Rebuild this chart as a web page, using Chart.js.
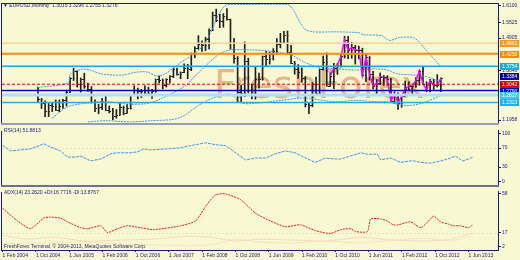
<!DOCTYPE html>
<html>
<head>
<meta charset="utf-8">
<script src="https://cdn.jsdelivr.net/npm/chart.js@4.4.1/dist/chart.umd.min.js"></script>
<style>
  html, body { margin: 0; padding: 0; background: #F8F8D2; }
  #wrap { position: relative; width: 520px; height: 260px; overflow: hidden; background: #F8F8D2; }
  canvas { position: absolute; left: 0; }
</style>
</head>
<body>
<div id="wrap">
  <canvas id="mainChart" width="520" height="127" style="top:0;width:520px;height:127px"></canvas>
  <canvas id="rsiChart" width="520" height="62" style="top:127px;width:520px;height:62px"></canvas>
  <canvas id="adxChart" width="520" height="72" style="top:188px;width:520px;height:72px"></canvas>
</div>
<script>
// month index 0 = Feb 2004 ... 113 = Jul 2013
const opens = [1.2460,1.2470,1.2300,1.1970,1.2200,1.2170,1.2020,1.2170,1.2420,1.2740,1.3270,1.3560,
  1.3050,1.3260,1.2960,1.2870,1.2340,1.2090,1.2130,1.2340,1.2030,1.1990,1.1790,1.1840,
  1.2160,1.1910,1.2110,1.2620,1.2800,1.2790,1.2770,1.2820,1.2680,1.2760,1.3250,1.3190,
  1.3030,1.3230,1.3360,1.3650,1.3450,1.3540,1.3690,1.3640,1.4270,1.4490,1.4640,1.4590,
  1.4840,1.5180,1.5790,1.5590,1.5540,1.5760,1.5610,1.4680,1.4080,1.2720,1.2700,1.3970,
  1.2800,1.2670,1.3250,1.3230,1.4150,1.4030,1.4250,1.4340,1.4640,1.4720,1.5000,1.4320,
  1.3870,1.3630,1.3510,1.3290,1.2270,1.2230,1.3050,1.2680,1.3630,1.3930,1.2980,1.3380,
  1.3690,1.3810,1.4160,1.4800,1.4390,1.4500,1.4390,1.4390,1.3390,1.4140,1.3450,1.2960,
  1.3080,1.3320,1.3340,1.3240,1.2370,1.2660,1.2290,1.2570,1.2860,1.2960,1.2990,1.3190,
  1.3580,1.3060,1.2820,1.3170,1.3000,1.3015];
const highs = [1.2930,1.2480,1.2380,1.2280,1.2290,1.2420,1.2420,1.2440,1.2810,1.3300,1.3670,1.3570,
  1.3290,1.3480,1.3090,1.2950,1.2420,1.2250,1.2480,1.2580,1.2180,1.2090,1.2040,1.2280,
  1.2180,1.2250,1.2620,1.2980,1.2890,1.2840,1.2980,1.2930,1.2840,1.3250,1.3370,1.3250,
  1.3260,1.3380,1.3680,1.3680,1.3530,1.3850,1.3830,1.4280,1.4530,1.4970,1.4760,1.4900,
  1.5240,1.5900,1.6020,1.5820,1.5840,1.6040,1.5620,1.4860,1.4140,1.3010,1.4720,1.4070,
  1.3050,1.3740,1.3480,1.4160,1.4340,1.4310,1.4450,1.4850,1.5060,1.5140,1.5150,1.4580,
  1.3950,1.3820,1.3690,1.3350,1.2330,1.3110,1.3330,1.3650,1.4160,1.4280,1.3500,1.3870,
  1.3860,1.4250,1.4940,1.4940,1.4700,1.4580,1.4550,1.4470,1.4250,1.4140,1.3550,1.3230,
  1.3490,1.3390,1.3380,1.3280,1.2750,1.2700,1.2580,1.3170,1.3140,1.3020,1.3310,1.3600,
  1.3710,1.3140,1.3240,1.3240,1.3420,1.3296];
const lows = [1.2350,1.2080,1.1760,1.1760,1.1960,1.2000,1.1950,1.2080,1.2180,1.2720,1.3190,1.2930,
  1.2730,1.2880,1.2760,1.2300,1.1960,1.1870,1.2030,1.1990,1.1910,1.1640,1.1700,1.1830,
  1.1830,1.1910,1.2060,1.2620,1.2460,1.2520,1.2660,1.2610,1.2480,1.2720,1.3090,1.2860,
  1.2930,1.3080,1.3300,1.3400,1.3260,1.3500,1.3260,1.3580,1.4090,1.4430,1.4340,1.4370,
  1.4440,1.5180,1.5520,1.5280,1.5300,1.5580,1.4430,1.3880,1.2330,1.2330,1.2550,1.2700,
  1.2460,1.2450,1.2890,1.3200,1.3740,1.3840,1.4000,1.4220,1.4480,1.4680,1.4220,1.3860,
  1.3440,1.3270,1.3120,1.2140,1.1880,1.2150,1.2590,1.2650,1.3600,1.2970,1.2970,1.2870,
  1.3430,1.3720,1.4080,1.4050,1.4070,1.3840,1.4050,1.3360,1.3140,1.3210,1.2860,1.2620,
  1.3030,1.3000,1.3000,1.2350,1.2280,1.2040,1.2130,1.2560,1.2800,1.2660,1.2920,1.3000,
  1.3030,1.2750,1.2740,1.2790,1.2930,1.2755];
const closes = [1.2470,1.2300,1.1970,1.2200,1.2170,1.2020,1.2170,1.2420,1.2740,1.3270,1.3560,1.3050,
  1.3260,1.2960,1.2870,1.2340,1.2090,1.2130,1.2340,1.2030,1.1990,1.1790,1.1840,1.2160,
  1.1910,1.2110,1.2620,1.2800,1.2790,1.2770,1.2820,1.2680,1.2760,1.3250,1.3190,1.3030,
  1.3230,1.3360,1.3650,1.3450,1.3540,1.3690,1.3640,1.4270,1.4490,1.4640,1.4590,1.4840,
  1.5180,1.5790,1.5590,1.5540,1.5760,1.5610,1.4680,1.4080,1.2720,1.2700,1.3970,1.2800,
  1.2670,1.3250,1.3230,1.4150,1.4030,1.4250,1.4340,1.4640,1.4720,1.5000,1.4320,1.3870,
  1.3630,1.3510,1.3290,1.2270,1.2230,1.3050,1.2680,1.3630,1.3930,1.2980,1.3380,1.3690,
  1.3810,1.4160,1.4800,1.4390,1.4500,1.4390,1.4390,1.3390,1.4140,1.3450,1.2960,1.3080,
  1.3320,1.3340,1.3240,1.2370,1.2660,1.2290,1.2570,1.2860,1.2960,1.2990,1.3190,1.3580,
  1.3060,1.2820,1.3170,1.3000,1.3010,1.3276];

// magenta overlay (month index, price)
const pinkIdx = [82,83,84,85,86,87,88,89,90,91,92,93,94,95,96,97,98,99,100,101,102,103,104,105,106,107,108,109,110,111,112,113];
const pinkVal = [1.3380,1.3690,1.3810,1.4160,1.4800,1.4390,1.4500,1.4390,1.4390,1.3390,1.4140,1.3450,1.2960,1.3080,
  1.3320,1.3340,1.3240,1.2370,1.2660,1.2290,1.2570,1.2860,1.2960,1.2990,1.3190,1.3580,1.3060,1.2820,1.3170,1.3000,1.3010,1.3276];

// Bollinger bands (month index, price)
const bbUpIdx = [0,8.4,9.1,12.3,14.7,18,23.6,27.6,30.8,33.2,35.6,40.4,45.2,48.3,50.7,52.9,57.9,70,71.6,73.3,74.8,77.2,83.7,90.1,91.3,96.4,98.6,101.2,105.3,107,108.4,110.8,113];
const bbUpVal = [1.291,1.310,1.3445,1.3635,1.3597,1.3445,1.3407,1.3521,1.3521,1.3369,1.3445,1.3939,1.4395,1.5041,1.5801,1.6181,1.620,1.620,1.5991,1.5535,1.5231,1.5117,1.5117,1.5079,1.5003,1.4965,1.4775,1.4889,1.4889,1.4699,1.4471,1.4091,1.3749];
const bbMidIdx = [4,8.4,14,19,26,31,35,41,44,48,51,54,60,65,71,75,79,84,89,95,98,101,106,110,113];
const bbMidVal = [1.1700,1.2150,1.2300,1.2350,1.2250,1.2290,1.2500,1.2950,1.3350,1.3900,1.4250,1.4400,1.4400,1.4350,1.4200,1.3900,1.3700,1.3650,1.3600,1.3650,1.3600,1.3450,1.3400,1.3300,1.3100];
const bbLowIdx = [14,19,26,32,38,41,45,50,54,57,62,68,75,80,84,89,95,98,101,104,108,113];
const bbLowVal = [1.1550,1.1600,1.1550,1.1600,1.1650,1.1800,1.2200,1.2550,1.2650,1.2300,1.2300,1.2400,1.2500,1.2400,1.2350,1.2400,1.2350,1.2350,1.2250,1.2200,1.2300,1.2600];

// horizontal levels and their label boxes
const levelVals   = [1.4661, 1.4250, 1.3754, 1.3042, 1.2790, 1.2617, 1.2323];
const levelLabels = ['1.4661','1.4250','1.3754','1.3042','1.2790','1.2617','1.2323'];
const levelColors = ['#F6D59A','#FF8C00','#1EA8E0','#E00000','#0000D0','#A8E4F4','#20B0F0'];
const levelBoxes  = ['#FF9A1F','#FF8C00','#1EA8E0','#E00000','#0000D0','#40C8F0','#20B0F0'];
const levelWidths = [1.5, 2, 1.5, 1, 1.5, 3, 1.5];
const navyTagVal = 1.3384, navyTagLabel = '1.3384';

// price axis ticks
const priceTickVals   = [1.6143, 1.5497, 1.4870, 1.3597, 1.1621];
const priceTickLabels = ['1.6100', '1.5525', '1.4905', '1.3646', '1.1958'];

// RSI (month index, value)
const rsiIdx = [0,1.9,4.3,6.7,9.9,11.5,13.9,15.6,17.5,18.8,21.2,23.6,26,27.6,30.8,32.4,33.9,35.6,39.2,42.3,45.2,48.8,51.2,53.6,56,58.4,60.8,63.2,65.6,68,70.4,72.8,75.2,77.6,80,81.3,86.1,87.7,90.1,90.9,93.3,95.7,98.1,98.8,100.5,102.9,105.3,107,108.9,110.6,112,113.2];
const rsiVal = [75.5,64,66,68,79,72,64,51,51,53,43,47,58,60,60,62,68,66,68,70,75,81,77,75,60,45,49,49,58,64,60,49,40,49,47,47,60,57,57,45,49,40,43,43,40,38,43,47,53,43,47,51];
const rsiTickVals = [100, 70, 30, 0];

// ADX and DI lines (month index, value)
const adxIdx = [0,3.6,6.7,9.9,11.5,13.9,15.6,18.8,20.4,23.6,25.2,27.6,30,33.2,36.3,42.8,46.4,48.8,51.2,53.6,57.2,60.8,64.4,68,71.6,75.2,78.8,81.3,83.7,84.9,87.7,88.5,90.9,92.5,93.9,95.1,98.1,100.5,102.2,103.6,105.3,107,108.4,110.1,112,113];
const adxVal = [42.6,29.3,21.1,32.4,33.4,32.4,28.3,22.1,21.1,24.2,17,21.1,24.2,22.1,20.1,24.2,29.3,44.7,57,58,51.9,37.5,29.3,23.2,25.2,19,16,20.1,21.1,18,18,31.4,31.4,29.3,25.2,25.2,28.3,22.1,28.3,34.4,28.3,26.2,24.2,24.2,22.1,25.2,23.2];
const pdiIdx = [0,6,12,20,28,36,44,50,56,62,70,78,86,94,102,108,113];
const pdiVal = [14,10,12,8,9,10,13,12,8,10,9,8,12,9,8,10,16.8];
const mdiIdx = [0,6,12,20,28,36,44,50,56,62,70,78,86,94,102,108,113];
const mdiVal = [5,6,6,7,5,4,3,4,10,7,6,8,6,9,11,8,13.9];
const adxTickVals = [58, 17, 2];

// time axis
const timeTickIdx = [0,8,16,24,32,40,48,56,64,72,80,88,96,104,112];
const timeTickLabels = ['1 Feb 2004','1 Oct 2004','1 Jun 2005','1 Feb 2006','1 Oct 2006','1 Jun 2007','1 Feb 2008',
  '1 Oct 2008','1 Jun 2009','1 Feb 2010','1 Oct 2010','1 Jun 2011','1 Feb 2012','1 Oct 2012','1 Jun 2013'];

const NAVY = '#1C1C80';
const FONT = 'Liberation Sans';
const xMin = -0.15, xMax = 119.1;

const pts = (xs, ys) => xs.map((x, i) => ({ x: x, y: ys[i] }));

// fixed-width right axis so all panes line up
function fixWidth(scale) { scale.width = 22; }

function rightAxis(min, max, vals, labels) {
  return {
    position: 'right', min: min, max: max,
    afterFit: fixWidth,
    afterBuildTicks: s => { s.ticks = vals.map(v => ({ value: v })); },
    grid: { display: true, drawOnChartArea: false, drawTicks: true, tickLength: 3, color: NAVY },
    border: { display: false },
    ticks: {
      padding: 1, color: NAVY, font: { family: FONT, size: 5 },
      callback: (v, i) => labels ? labels[i] : String(v)
    }
  };
}

// frame / separators for each pane
const framePlugin = {
  id: 'frame',
  afterDraw(chart, args, opts) {
    const { ctx, chartArea: a } = chart;
    ctx.save();
    ctx.strokeStyle = NAVY; ctx.lineWidth = 1;
    ctx.beginPath();
    if (opts.top) { ctx.moveTo(1, a.top - 0.5); ctx.lineTo(a.right + 0.5, a.top - 0.5); }
    ctx.moveTo(1.5, a.top); ctx.lineTo(1.5, a.bottom);
    ctx.moveTo(a.right + 0.5, a.top - 1); ctx.lineTo(a.right + 0.5, a.bottom + 1);
    ctx.stroke();
    ctx.strokeStyle = opts.bottomColor || NAVY;
    ctx.lineWidth = opts.bottomWidth || 1;
    ctx.beginPath();
    ctx.moveTo(1, a.bottom + ctx.lineWidth / 2); ctx.lineTo(a.right + 1, a.bottom + ctx.lineWidth / 2);
    ctx.stroke();
    (opts.texts || []).forEach(t => {
      ctx.fillStyle = t.color || NAVY;
      ctx.font = (t.size || 5) + 'px "' + FONT + '"';
      ctx.textBaseline = 'middle';
      ctx.fillText(t.text, t.x, t.y);
    });
    ctx.restore();
  }
};

// dashed indicator level lines
const levelLinePlugin = {
  id: 'levelLine',
  beforeDatasetsDraw(chart, args, opts) {
    if (!opts.values) return;
    const { ctx, chartArea: a, scales: { y } } = chart;
    ctx.save();
    ctx.strokeStyle = opts.color; ctx.lineWidth = 1; ctx.setLineDash([2, 2]);
    opts.values.forEach(v => {
      const py = Math.round(y.getPixelForValue(v)) + 0.5;
      ctx.beginPath(); ctx.moveTo(a.left, py); ctx.lineTo(a.right, py); ctx.stroke();
    });
    ctx.restore();
  }
};

// main pane extras: watermark, OHLC ticks, horizontal levels, price tags
const pricePlugin = {
  id: 'price',
  beforeDatasetsDraw(chart) {
    const { ctx, chartArea: a } = chart;
    ctx.save();
    ctx.beginPath(); ctx.rect(a.left, a.top, a.right - a.left, a.bottom - a.top); ctx.clip();
    ctx.fillStyle = 'rgba(224, 172, 122, 0.85)';
    ctx.font = '39px "DejaVu Sans"';
    ctx.textBaseline = 'alphabetic';
    ctx.fillText('FreshForex', 214, 98);
    ctx.restore();
  },
  afterDatasetsDraw(chart) {
    const { ctx, chartArea: a, scales: { x, y } } = chart;
    ctx.save();
    ctx.beginPath(); ctx.rect(a.left, a.top, a.right - a.left, a.bottom - a.top); ctx.clip();
    ctx.strokeStyle = '#202020'; ctx.lineWidth = 1;
    opens.forEach((o, i) => {
      const px = Math.round(x.getPixelForValue(i)) + 0.5;
      const po = Math.round(y.getPixelForValue(o)) + 0.5;
      const pc = Math.round(y.getPixelForValue(closes[i])) + 0.5;
      ctx.beginPath();
      ctx.moveTo(px - 1.5, po); ctx.lineTo(px, po);
      ctx.moveTo(px, pc); ctx.lineTo(px + 1.5, pc);
      ctx.stroke();
    });
    levelVals.forEach((v, i) => {
      const py = y.getPixelForValue(v);
      ctx.strokeStyle = levelColors[i]; ctx.lineWidth = levelWidths[i];
      ctx.setLineDash(i === 3 ? [3, 2] : []);
      ctx.beginPath(); ctx.moveTo(a.left, py); ctx.lineTo(a.right, py); ctx.stroke();
    });
    ctx.restore();
  },
  afterDraw(chart) {
    const { ctx, chartArea: a, scales: { y } } = chart;
    ctx.save();
    ctx.font = '5px "' + FONT + '"';
    ctx.textBaseline = 'middle';
    const tag = (v, label, color) => {
      const py = Math.round(y.getPixelForValue(v));
      ctx.fillStyle = color;
      ctx.fillRect(a.right + 2, py - 3, 19, 7);
      ctx.fillStyle = '#FFFFFF';
      ctx.fillText(label, a.right + 4, py + 0.5);
    };
    tag(navyTagVal, navyTagLabel, '#0000A0');
    levelVals.forEach((v, i) => tag(v, levelLabels[i], levelBoxes[i]));
    ctx.restore();
  }
};

Chart.register(framePlugin, levelLinePlugin);

const xAxisHidden = { type: 'linear', min: xMin, max: xMax, display: false };

new Chart(document.getElementById('mainChart'), {
  data: {
    datasets: [
      { type: 'bar', data: lows.map((l, i) => ({ x: i, y: [l, highs[i]] })),
        backgroundColor: '#202020', barThickness: 1, borderWidth: 0, grouped: false, order: 5 },
      { type: 'line', data: pts(bbUpIdx, bbUpVal), borderColor: '#3C96F0', borderWidth: 1, borderDash: [2, 1], pointRadius: 0, tension: 0.3, order: 3 },
      { type: 'line', data: pts(bbMidIdx, bbMidVal), borderColor: '#3C96F0', borderWidth: 1, borderDash: [2, 1], pointRadius: 0, tension: 0.3, order: 3 },
      { type: 'line', data: pts(bbLowIdx, bbLowVal), borderColor: '#3C96F0', borderWidth: 1, borderDash: [2, 1], pointRadius: 0, tension: 0.3, order: 3 },
      { type: 'line', data: pts(pinkIdx, pinkVal), borderColor: '#FF00FF', borderWidth: 1.5, pointRadius: 0, tension: 0, order: 1 }
    ]
  },
  options: {
    responsive: false, animation: false, events: [],
    layout: { padding: { top: 2, left: 2, right: 0, bottom: 1 } },
    plugins: {
      legend: { display: false }, tooltip: { enabled: false },
      frame: { top: true, bottomColor: '#9C9CB4', bottomWidth: 2,
        texts: [{ text: '▼ EURUSD,Monthly  1.3015 1.3296 1.2755 1.3276', x: 3, y: 6 }] }
    },
    scales: {
      x: xAxisHidden,
      y: rightAxis(1.1507, 1.6219, priceTickVals, priceTickLabels)
    }
  },
  plugins: [pricePlugin]
});

new Chart(document.getElementById('rsiChart'), {
  type: 'line',
  data: { datasets: [
    { data: pts(rsiIdx, rsiVal), borderColor: '#3C96F0', borderWidth: 1, borderDash: [3, 1], pointRadius: 0, tension: 0 }
  ] },
  options: {
    responsive: false, animation: false, events: [],
    layout: { padding: { top: 1, left: 2, right: 0, bottom: 1 } },
    plugins: {
      legend: { display: false }, tooltip: { enabled: false },
      levelLine: { values: [70], color: '#E6E2C0' },
      frame: { bottomColor: '#6E6EA0', bottomWidth: 2,
        texts: [{ text: 'RSI(14) 51.8813', x: 4, y: 4 }] }
    },
    scales: {
      x: xAxisHidden,
      y: rightAxis(-7.5, 105.7, rsiTickVals, null)
    }
  }
});

new Chart(document.getElementById('adxChart'), {
  type: 'line',
  data: { datasets: [
    { data: pts(pdiIdx, pdiVal), borderColor: '#F4DAB8', borderWidth: 1, pointRadius: 0, tension: 0.2 },
    { data: pts(mdiIdx, mdiVal), borderColor: '#F6E2C4', borderWidth: 1, pointRadius: 0, tension: 0.2 },
    { data: pts(adxIdx, adxVal), borderColor: '#E81818', borderWidth: 1, borderDash: [2, 1], pointRadius: 0, tension: 0.2 }
  ] },
  options: {
    responsive: false, animation: false, events: [],
    layout: { padding: { top: 2, left: 2, right: 0, bottom: 0 } },
    plugins: {
      legend: { display: false }, tooltip: { enabled: false },
      levelLine: { values: [17], color: '#E6E2C0' },
      frame: { bottomColor: NAVY, bottomWidth: 1,
        texts: [
          { text: 'ADX(14) 23.2620 +DI:16.7716 -DI:13.8767', x: 4, y: 5 },
          { text: 'FreshForex Terminal, © 2004-2013, MetaQuotes Software Corp.', x: 4, y: 59 }
        ] }
    },
    scales: {
      x: {
        type: 'linear', min: xMin, max: xMax, position: 'bottom',
        afterFit: s => { s.height = 10; },
        afterBuildTicks: s => { s.ticks = timeTickIdx.map(v => ({ value: v })); },
        grid: { display: true, drawOnChartArea: false, drawTicks: true, tickLength: 2, color: NAVY },
        border: { display: false },
        ticks: { align: 'start', padding: 1, maxRotation: 0, autoSkip: false, color: NAVY,
          font: { family: FONT, size: 5 }, callback: (v, i) => timeTickLabels[i] }
      },
      y: rightAxis(-1.5, 60, adxTickVals, null)
    }
  }
});
</script>
</body>
</html>
